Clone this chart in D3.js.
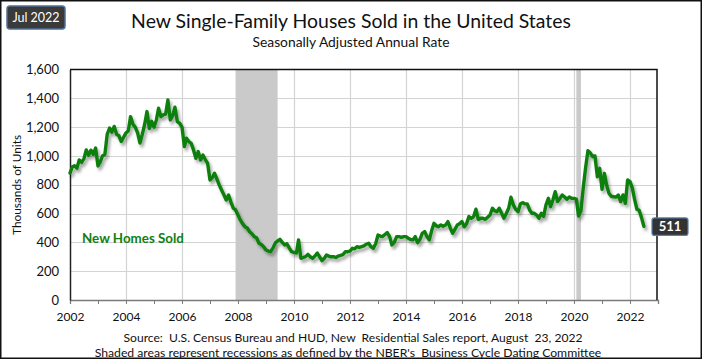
<!DOCTYPE html>
<html><head><meta charset="utf-8">
<script src="https://cdn.jsdelivr.net/npm/d3@7"></script>
<style>
body{margin:0;background:#fff}
svg{display:block}
text{font-family:Lato,"Open Sans",sans-serif}
</style></head>
<body><svg id="c" width="704" height="360"></svg>
<script>
// ---- data ----
const startYear = 2002;
const sales = [
  // 2002
  881, 925, 932, 915, 972, 955, 980, 1042, 1005, 1040, 1010, 1055,
  // 2003
  930, 960, 1000, 1010, 1150, 1194, 1165, 1205, 1150, 1140, 1100, 1130,
  // 2004
  1160, 1175, 1273, 1220, 1200, 1160, 1090, 1150, 1220, 1308, 1190, 1240,
  // 2005
  1200, 1250, 1331, 1273, 1285, 1290, 1389, 1250, 1280, 1338, 1238, 1227,
  // 2006
  1200, 1065, 1123, 1100, 1088, 1040, 984, 1030, 972, 1007, 975, 949,
  // 2007
  833, 850, 880, 840, 799, 764, 730, 694, 729, 680, 637, 625,
  // 2008
  590, 556, 530, 509, 500, 474, 460, 440, 430, 394, 385, 370,
  // 2009
  347, 340, 335, 360, 395, 410, 421, 400, 382, 390, 360, 335,
  // 2010
  330, 326, 417, 289, 295, 301, 317, 300, 289, 305, 326, 300,
  // 2011
  273, 290, 312, 305, 300, 301, 295, 305, 310, 315, 335, 335,
  // 2012
  340, 359, 355, 370, 365, 370, 375, 387, 394, 370, 359, 390,
  // 2013
  451, 444, 440, 455, 468, 440, 382, 400, 440, 440, 435, 440,
  // 2014
  440, 428, 420, 417, 440, 398, 420, 463, 475, 440, 417, 480,
  // 2015
  532, 515, 509, 521, 512, 520, 544, 500, 463, 490, 521, 530,
  // 2016
  544, 509, 530, 579, 567, 579, 630, 560, 567, 567, 560, 575,
  // 2017
  590, 637, 620, 613, 637, 602, 567, 600, 637, 713, 660, 630,
  // 2018
  613, 667, 676, 667, 667, 625, 602, 602, 590, 567, 602, 580,
  // 2019
  660, 706, 648, 694, 752, 683, 705, 729, 715, 700, 715, 706,
  // 2020
  705, 700, 583, 620, 780, 920, 1037, 1020, 995, 1000, 856, 914,
  // 2021
  769, 879, 800, 741, 720, 717, 714, 729, 683, 729, 671, 833,
  // 2022
  822, 775, 700, 630, 622, 570, 511
];
const yTicks = [0, 200, 400, 600, 800, 1000, 1200, 1400, 1600];
const xLabelYears = [2002, 2004, 2006, 2008, 2010, 2012, 2014, 2016, 2018, 2020, 2022];
const recessions = [[2007, 11, 2009, 5], [2020, 1, 2020, 3]]; // start y, m0, end y, m0
const titleText = "New Single-Family Houses Sold in the United States";
const subtitleText = "Seasonally Adjusted Annual Rate";
const yTitle = "Thousands of Units";
const seriesName = "New Homes Sold";
const badgeText = "Jul 2022";
const sourceText = "Source:  U.S. Census Bureau and HUD, New  Residential Sales report, August  23, 2022";
const noteText = "Shaded areas represent recessions as defined by the NBER's  Business Cycle Dating Committee";

// ---- build ----
const data = sales.map((v, i) => ({date: new Date(startYear, i, 1), v}));
const svg = d3.select("#c");
const L = 70, R = 657, T = 69.5, B = 300;
const x = d3.scaleTime().domain([new Date(2002, 0, 1), new Date(2023, 0, 1)]).range([L, R + 1]);
const y = d3.scaleLinear().domain([0, 1600]).range([B, T]);

const defs = svg.append("defs");
const f = defs.append("filter").attr("id", "sh").attr("x", "-5%").attr("y", "-5%").attr("width", "110%").attr("height", "120%");
f.append("feDropShadow").attr("dx", 2).attr("dy", 3).attr("stdDeviation", 1.6)
  .attr("flood-color", "#000").attr("flood-opacity", 0.35);

// background
svg.append("rect").attr("width", 704).attr("height", 360).attr("fill", "#fff");

// grid
svg.append("g").selectAll("line").data(yTicks.filter(t => t > 0 && t < 1600)).join("line")
  .attr("x1", L).attr("x2", R).attr("y1", d => Math.round(y(d)) + 0.5).attr("y2", d => Math.round(y(d)) + 0.5)
  .attr("stroke", "#d3d3d3").attr("stroke-width", 1.2);
svg.append("g").selectAll("line").data(xLabelYears.filter(t => t > 2002)).join("line")
  .attr("x1", d => Math.round(x(new Date(d, 0, 1))) + 0.5).attr("x2", d => Math.round(x(new Date(d, 0, 1))) + 0.5)
  .attr("y1", T).attr("y2", B)
  .attr("stroke", "#d3d3d3").attr("stroke-width", 1.2);

// recessions
svg.append("g").selectAll("rect").data(recessions).join("rect")
  .attr("x", d => x(new Date(d[0], d[1], 1)))
  .attr("width", d => x(new Date(d[2], d[3], 1)) - x(new Date(d[0], d[1], 1)))
  .attr("y", T).attr("height", B - T)
  .attr("fill", "#cacaca");

// x axis
const xAxis = d3.axisBottom(x)
  .tickValues(d3.range(2002, 2023).map(yy => new Date(yy, 0, 1)))
  .tickSize(4).tickPadding(8)
  .tickFormat(d => xLabelYears.includes(d.getFullYear()) ? d.getFullYear() : "");
const gx = svg.append("g").attr("transform", `translate(0,${B})`).call(xAxis);
gx.select(".domain").attr("stroke", "#7a7a7a").attr("stroke-width", 1.3);
gx.selectAll(".tick line").attr("stroke", "#7a7a7a");
gx.selectAll(".tick text").attr("font-size", 12).attr("fill", "#111").attr("dy", "0.71em")
  .attr("font-family", "Lato, sans-serif");

// y axis
const yAxis = d3.axisLeft(y).tickValues(yTicks).tickSize(0).tickPadding(11).tickFormat(d3.format(","));
const gy = svg.append("g").attr("transform", `translate(${L},0)`).call(yAxis);
gy.select(".domain").attr("stroke", "#222").attr("stroke-width", 1.5);
gy.selectAll(".tick text").attr("font-size", 13).attr("fill", "#111").attr("font-family", "Lato, sans-serif");

// frame top + right
svg.append("path").attr("d", `M${L},${T}H${R}V${B}`).attr("fill", "none").attr("stroke", "#111").attr("stroke-width", 1.5);

// line
svg.append("path").datum(data)
  .attr("d", d3.line().x(d => x(d.date)).y(d => y(d.v)))
  .attr("fill", "none").attr("stroke", "#0e7f0e").attr("stroke-width", 3.4)
  .attr("stroke-linejoin", "round").attr("stroke-linecap", "round")
  .attr("filter", "url(#sh)");

function fit(sel, w) {
  const len = sel.node().getComputedTextLength();
  const fs = parseFloat(sel.attr("font-size"));
  sel.attr("font-size", (fs * w / len).toFixed(2));
  return sel;
}

// series label
fit(svg.append("text").attr("x", 82).attr("y", 243).attr("font-size", 14).attr("font-weight", "bold")
  .attr("fill", "#118011").text(seriesName), 102);

// last value label
const last = data[data.length - 1];
const ly = y(last.v);
svg.append("rect").attr("x", 652).attr("y", ly - 8.5).attr("width", 36).attr("height", 17.5).attr("rx", 2.5)
  .attr("fill", "#333").attr("stroke", "#5a7ea8").attr("stroke-width", 1.2);
svg.append("text").attr("x", 670).attr("y", ly + 4.8).attr("text-anchor", "middle").attr("font-size", 13)
  .attr("font-weight", "bold").attr("fill", "#fff").text(d3.format(",")(last.v));

// badge
svg.append("rect").attr("x", 7).attr("y", 6).attr("width", 58).attr("height", 23).attr("rx", 3)
  .attr("fill", "#3a3a3a").attr("stroke", "#4f6f93").attr("stroke-width", 1.5);
svg.append("text").attr("x", 36).attr("y", 22).attr("text-anchor", "middle").attr("font-size", 12.5)
  .attr("fill", "#fff").text(badgeText);

// titles
fit(svg.append("text").attr("x", 351).attr("y", 28).attr("text-anchor", "middle").attr("font-size", 19)
  .attr("fill", "#111").text(titleText), 440);
fit(svg.append("text").attr("x", 351).attr("y", 47).attr("text-anchor", "middle").attr("font-size", 13)
  .attr("fill", "#111").text(subtitleText), 197);

// y title
fit(svg.append("text").attr("transform", "translate(21,185) rotate(-90)").attr("text-anchor", "middle")
  .attr("font-size", 13).attr("fill", "#111").text(yTitle), 100);

// footer
fit(svg.append("text").attr("x", 353).attr("y", 342).attr("text-anchor", "middle").attr("font-size", 12.5)
  .attr("fill", "#111").attr("xml:space", "preserve").style("white-space", "pre").text(sourceText), 459);
fit(svg.append("text").attr("x", 348).attr("y", 357).attr("text-anchor", "middle").attr("font-size", 12.5)
  .attr("fill", "#111").style("white-space", "pre").text(noteText), 507);

// outer border
svg.append("rect").attr("x", 0.75).attr("y", 0.75).attr("width", 700.5).attr("height", 357.5)
  .attr("fill", "none").attr("stroke", "#111").attr("stroke-width", 1.5);
</script></body></html>
